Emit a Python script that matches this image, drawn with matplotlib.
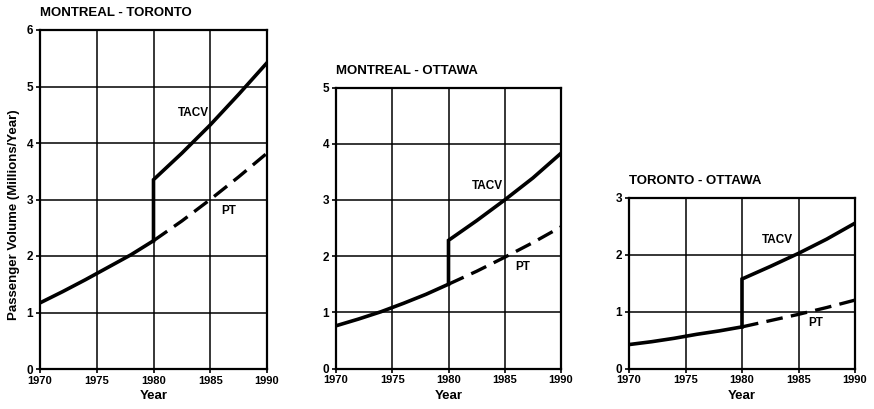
import matplotlib
matplotlib.use("Agg")
import matplotlib.pyplot as plt

plt.rcParams['font.family'] = ['Liberation Sans', 'DejaVu Sans']
plt.rcParams['font.weight'] = 'bold'

titles = ["MONTREAL - TORONTO", "MONTREAL - OTTAWA", "TORONTO - OTTAWA"]
ymax = [6, 5, 3]

# base (pre-1980) curve
base_years = [1970, 1972, 1974, 1976, 1978, 1980]
base_mt = [1.17, 1.37, 1.58, 1.80, 2.02, 2.27]
base_mo = [0.76, 0.88, 1.01, 1.16, 1.32, 1.50]
base_to = [0.42, 0.47, 0.53, 0.60, 0.66, 0.73]

# PT (dashed) after 1980
pt_years = [1980, 1982.5, 1985, 1987.5, 1990]
pt_mt = [2.27, 2.62, 3.00, 3.40, 3.82]
pt_mo = [1.50, 1.73, 1.98, 2.24, 2.52]
pt_to = [0.73, 0.84, 0.95, 1.07, 1.20]

# TACV (solid) after 1980, with the jump at 1980
tacv_years = [1980, 1980, 1982.5, 1985, 1987.5, 1990]
tacv_mt = [2.27, 3.35, 3.82, 4.32, 4.86, 5.42]
tacv_mo = [1.50, 2.28, 2.63, 3.00, 3.39, 3.83]
tacv_to = [0.73, 1.57, 1.79, 2.02, 2.27, 2.55]

bases = [base_mt, base_mo, base_to]
pts = [pt_mt, pt_mo, pt_to]
tacvs = [tacv_mt, tacv_mo, tacv_to]

xticks = [1970, 1975, 1980, 1985, 1990]
xticklabels = ["1970", "1975", "1980", "1985", "1990"]

tacv_lbl_pos = [(1983.5, 4.53), (1983.5, 3.24), (1983.1, 2.25)]
pt_lbl_pos = [(1986.6, 2.80), (1986.6, 1.80), (1986.5, 0.80)]

fig = plt.figure(figsize=(8.74, 4.09), dpi=100)
rects = [
    [40 / 874, (409 - 369) / 409, 227 / 874, 339 / 409],
    [336 / 874, (409 - 368.5) / 409, 225 / 874, 281 / 409],
    [629 / 874, (409 - 368.5) / 409, 226 / 874, 171 / 409],
]

for i in range(3):
    ax = fig.add_axes(rects[i])
    ax.set_xlim(1970, 1990)
    ax.set_ylim(0, ymax[i])
    ax.set_xticks(xticks)
    ax.set_xticklabels(xticklabels, fontsize=8, fontweight='bold')
    ax.set_yticks(range(0, ymax[i] + 1))
    ax.set_yticklabels([str(v) for v in range(0, ymax[i] + 1)], fontsize=8.5, fontweight='bold')
    ax.grid(True, color='black', linewidth=1.1)
    ax.set_axisbelow(True)
    for s in ax.spines.values():
        s.set_linewidth(1.6)
    ax.tick_params(direction='out', length=3, width=1.2, pad=2)
    ax.plot(base_years, bases[i], color='black', linewidth=2.6, solid_capstyle='butt', zorder=3)
    ax.plot(tacv_years, tacvs[i], color='black', linewidth=2.6, solid_joinstyle='miter', zorder=3)
    ax.plot(pt_years, pts[i], color='black', linewidth=2.4, dashes=(5, 2.5), zorder=3)
    ax.text(*tacv_lbl_pos[i], "TACV", fontsize=8.5, fontweight='bold', ha='center', va='center')
    ax.text(*pt_lbl_pos[i], "PT", fontsize=8.5, fontweight='bold', ha='center', va='center')
    ax.set_xlabel("Year", fontsize=9.5, fontweight='bold', labelpad=3)
    ax.set_title(titles[i], fontsize=9.5, fontweight='bold', loc='left', pad=10, x=0.0)
    if i == 0:
        ax.set_ylabel("Passenger Volume (Millions/Year)", fontsize=9.5, fontweight='bold')
        ax.yaxis.set_label_coords(-0.088, 0.455)

fig.savefig("out.png", dpi=100)
